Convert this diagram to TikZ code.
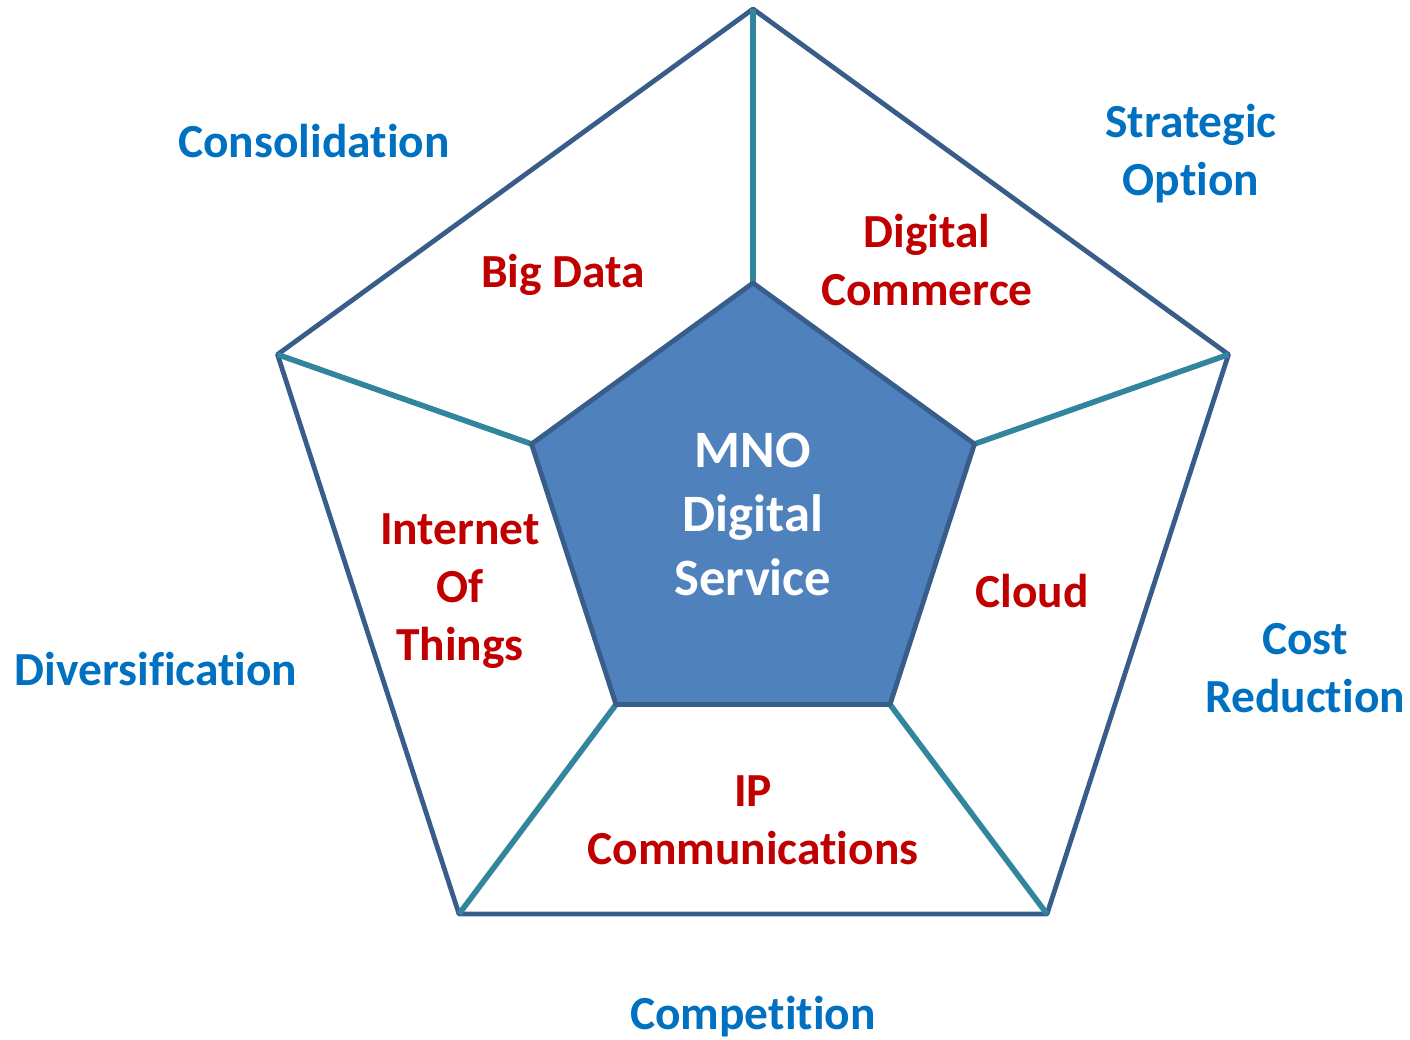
\documentclass[tikz,border=0pt]{standalone}
\usepackage{fontspec}
\setmainfont{Carlito}[Ligatures=NoCommon]
\begin{document}
\begin{tikzpicture}[x=0.75pt,y=-0.75pt,
  outerline/.style={draw=edgeblue,line width=3.6pt,line join=round},
  spoke/.style={draw=spoketeal,line width=4.2pt},
  corebox/.style={draw=edgeblue,fill=corefill,line width=3.6pt,line join=round},
  driver/.style={text=driverblue,font=\fontsize{35.6pt}{43.5pt}\selectfont\bfseries,align=center,inner sep=0pt},
  segment/.style={text=segred,font=\fontsize{35.6pt}{43.5pt}\selectfont\bfseries,align=center,inner sep=0pt},
  coretext/.style={text=white,font=\fontsize{39.4pt}{48pt}\selectfont\bfseries,align=center,inner sep=0pt}]
\definecolor{edgeblue}{HTML}{385D8A}
\definecolor{spoketeal}{HTML}{31859C}
\definecolor{corefill}{HTML}{4F81BD}
\definecolor{driverblue}{HTML}{0070C0}
\definecolor{segred}{HTML}{C00000}
\useasboundingbox (0,0) rectangle (1410,1039);

% outer pentagon corners
\coordinate (oT) at (753,9);
\coordinate (oR) at (1228.5,354.5);
\coordinate (oBR) at (1047,914);
\coordinate (oBL) at (459,914);
\coordinate (oL) at (277.5,354.5);
% inner pentagon corners
\coordinate (iT) at (753,283);
\coordinate (iR) at (974.5,444);
\coordinate (iBR) at (890,704.5);
\coordinate (iBL) at (616,704.5);
\coordinate (iL) at (531.5,444);

\draw[outerline] (oT) -- (oR) -- (oBR) -- (oBL) -- (oL) -- cycle;
\draw[spoke] (iT) -- (oT);
\draw[spoke] (iR) -- (oR);
\draw[spoke] (iBR) -- (oBR);
\draw[spoke] (iBL) -- (oBL);
\draw[spoke] (iL) -- (oL);
\draw[corebox] (iT) -- (iR) -- (iBR) -- (iBL) -- (iL) -- cycle;

% core label
\node[coretext] (core) at (753,514) {MNO\\Digital\\Service};

% segment labels
\node[segment] (bigdata) at (563,275) {Big Data};
\node[segment] (commerce) at (927,260) {Digital\\Commerce};
\node[segment] (cloud) at (1032,591) {Cloud};
\node[segment] (iot) at (460,591) {Internet\\Of\\Things};
\node[segment] (ipcom) at (753,820) {IP\\Communications};

% driver labels
\node[driver] (consol) at (314,141) {Consolidation};
\node[driver] (strat) at (1191,154) {Strategic\\Option};
\node[driver] (cost) at (1305,668) {Cost\\Reduction};
\node[driver] (divers) at (156,669) {Diversification};
\node[driver] (compet) at (753,1017) {Competition};
\end{tikzpicture}
\end{document}
